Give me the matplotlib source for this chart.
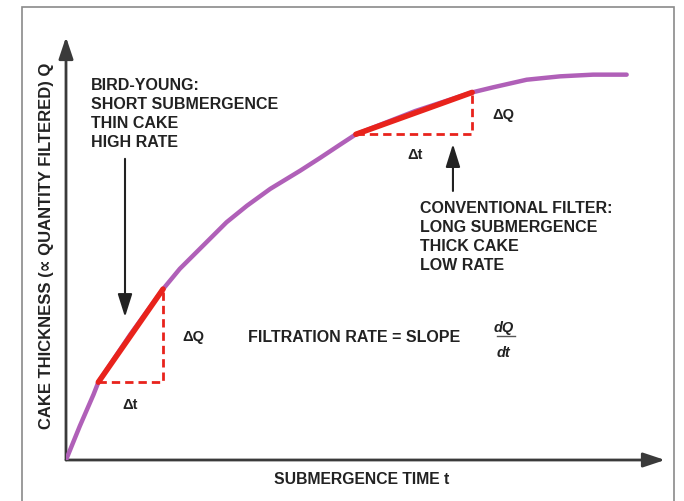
import numpy as np
import matplotlib.pyplot as plt
from matplotlib.patches import Rectangle

plt.rcParams['font.family'] = ['Liberation Sans', 'DejaVu Sans']

# curve (t = submergence time, q = cake thickness)
t_curve = [0, 0.23, 0.46, 0.54, 1.07, 1.62, 1.90, 2.29, 2.68, 3.02, 3.41,
           3.91, 4.24, 4.57, 4.84, 5.83, 6.78, 7.13, 7.69, 8.25, 8.80, 9.36]
q_curve = [0, 0.80, 1.55, 1.84, 2.96, 4.04, 4.52, 5.07, 5.62, 6.01, 6.41,
           6.84, 7.14, 7.45, 7.70, 8.25, 8.69, 8.81, 8.99, 9.07, 9.11, 9.11]

# slope segments: (t0, t1), (q0, q1)
fast_t = [0.54, 1.62]
fast_q = [1.84, 4.04]
slow_t = [4.84, 6.78]
slow_q = [7.70, 8.69]

fast_note = "BIRD-YOUNG:\nSHORT SUBMERGENCE\nTHIN CAKE\nHIGH RATE"
slow_note = "CONVENTIONAL FILTER:\nLONG SUBMERGENCE\nTHICK CAKE\nLOW RATE"

PURPLE = '#b060b8'
RED = '#e8231c'
DARK = '#222222'

fig = plt.figure(figsize=(6.84, 5.02), dpi=100)
ax = fig.add_axes([66/684, 41/502, 599/684, 423/502])
ax.set_xlim(0, 10)
ax.set_ylim(0, 10)
ax.axis('off')

# frame round the figure
fig.patches.append(Rectangle((22/684, -0.02), 652/684, 1.02 - 8/502,
                             transform=fig.transFigure, fill=False,
                             edgecolor='#8a8a8a', lw=1.2))

# axes with arrow heads
arrow = dict(arrowstyle='-|>,head_length=0.6,head_width=0.2', lw=2,
             color='#3a3a3a', mutation_scale=22, shrinkA=0, shrinkB=0)
ax.annotate('', xy=(1, 0), xytext=(0, 0), xycoords='axes fraction', arrowprops=arrow)
ax.annotate('', xy=(0, 1), xytext=(0, 0), xycoords='axes fraction', arrowprops=arrow)

ax.plot(t_curve, q_curve, color=PURPLE, lw=3.2, solid_capstyle='round',
        solid_joinstyle='round', zorder=3)

for tt, qq in [(fast_t, fast_q), (slow_t, slow_q)]:
    ax.plot(tt, qq, color=RED, lw=4, solid_capstyle='round', zorder=4)
    ax.plot([tt[0], tt[1], tt[1]], [qq[0], qq[0], qq[1]], color=RED, lw=2,
            ls=(0, (3, 1.8)), zorder=2)

bold = dict(fontsize=11.5, fontweight='bold', color=DARK)
ax.text(0.42, 8.20, fast_note, ha='left', va='center', linespacing=1.33, **bold)
ax.text(5.91, 5.30, slow_note, ha='left', va='center', linespacing=1.33, **bold)

note_arrow = dict(arrowstyle='-|>,head_length=0.7,head_width=0.22', lw=1.5,
                  color=DARK, mutation_scale=20, shrinkA=0, shrinkB=0)
ax.annotate('', xy=(0.985, 3.38), xytext=(0.985, 7.12), arrowprops=note_arrow)
ax.annotate('', xy=(6.46, 7.47), xytext=(6.46, 6.36), arrowprops=note_arrow)

small = dict(fontsize=10.5, fontweight='bold', color=DARK, va='center')
ax.text(1.94, 2.93, '\u0394Q', ha='left', **small)
ax.text(7.11, 8.18, '\u0394Q', ha='left', **small)
ax.text(1.07, 1.32, '\u0394t', ha='center', **small)
ax.text(5.83, 7.23, '\u0394t', ha='center', **small)

ax.text(3.04, 2.91, 'FILTRATION RATE = SLOPE', ha='left', va='center', **bold)
ax.text(7.30, 3.14, 'dQ', ha='center', va='center', fontsize=10.5,
        fontweight='bold', style='italic', color=DARK)
ax.text(7.30, 2.56, 'dt', ha='center', va='center', fontsize=10.5,
        fontweight='bold', style='italic', color=DARK)
ax.plot([7.19, 7.50], [2.92, 2.92], color='#555555', lw=1)

fig.text(362/684, 1 - 480/502, 'SUBMERGENCE TIME t', ha='center', va='center',
         fontsize=11.3, fontweight='bold', color=DARK)
fig.text(47/684, 1 - 246/502, 'CAKE THICKNESS (\u221d QUANTITY FILTERED) Q',
         ha='center', va='center', rotation=90, fontsize=12,
         fontweight='bold', color=DARK)

fig.savefig('out.png', dpi=100)
